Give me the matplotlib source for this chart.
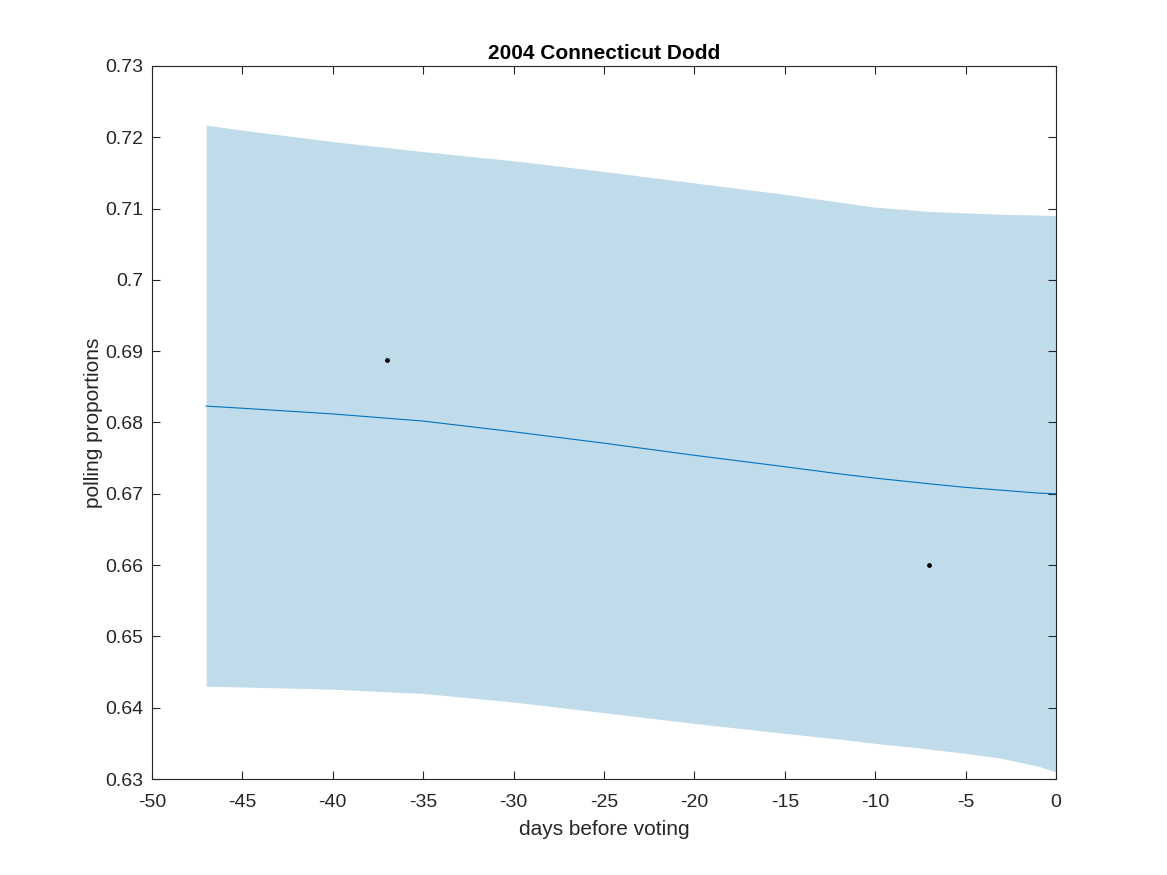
import matplotlib
matplotlib.use("Agg")
import matplotlib.pyplot as plt
import numpy as np

# values
days = [-47, -45, -40, -35, -30, -25, -20, -15, -12, -10, -7, -5, -3, -1, 0]
upper = [0.7217, 0.7210, 0.7194, 0.7180, 0.7167, 0.7152, 0.7136, 0.7120,
         0.7109, 0.7102, 0.7096, 0.7094, 0.7092, 0.7091, 0.7090]
lower = [0.6430, 0.6429, 0.6426, 0.6420, 0.6408, 0.6393, 0.6378, 0.6364,
         0.6356, 0.6350, 0.6342, 0.6336, 0.6329, 0.6318, 0.6310]
mean = [0.6823, 0.6820, 0.6812, 0.6802, 0.6787, 0.6771, 0.6754, 0.6738,
        0.6728, 0.6722, 0.6714, 0.6709, 0.6705, 0.6701, 0.6700]

poll_days = [-37, -7]
poll_vals = [0.6888, 0.6600]

plt.rcParams['font.family'] = ['Liberation Sans', 'DejaVu Sans']
plt.rcParams['axes.unicode_minus'] = False

fig = plt.figure(figsize=(11.67, 8.75), dpi=100)
ax = fig.add_axes([0.1302, 0.1097, 0.7747, 0.8149])

ax.fill_between(days, lower, upper, color='#c0dcea', linewidth=0)
ax.plot(days, mean, color='#0072BD', linewidth=0.8)
ax.scatter(poll_days, poll_vals, s=6, color='black', zorder=3)

ax.set_xlim(-50, 0)
ax.set_ylim(0.63, 0.73)
ax.set_xticks(np.arange(-50, 1, 5))
ax.set_yticks(np.arange(0.63, 0.7301, 0.01))
ax.set_yticklabels(['0.63', '0.64', '0.65', '0.66', '0.67', '0.68', '0.69',
                    '0.7', '0.71', '0.72', '0.73'])
ax.tick_params(direction='in', top=True, right=True, length=6, width=0.8,
               labelsize=14, colors='#262626')
ax.tick_params(axis='x', pad=11)
ax.tick_params(axis='y', pad=6)
for sp in ax.spines.values():
    sp.set_linewidth(0.8)
    sp.set_color('#262626')

ax.set_xlabel('days before voting', fontsize=15, color='#262626', labelpad=6)
ax.set_ylabel('polling proportions', fontsize=15, color='#262626', labelpad=2)
ax.set_title('2004 Connecticut Dodd', fontsize=15, fontweight='bold', pad=5)

fig.savefig('out.png', dpi=100)
